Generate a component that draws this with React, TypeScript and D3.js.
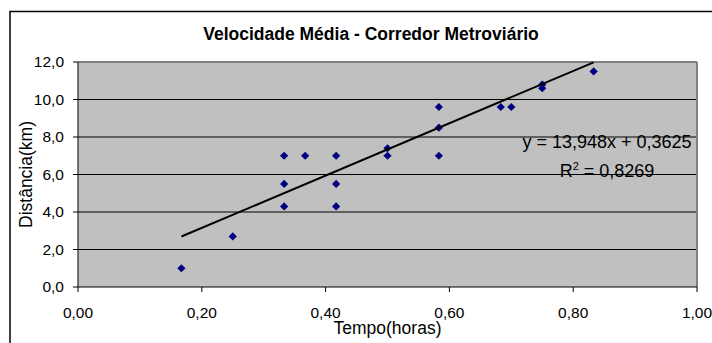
import React from "react";
import * as d3 from "d3";

const tempo = [0.167, 0.25, 0.333, 0.333, 0.333, 0.367, 0.417, 0.417, 0.417, 0.5, 0.5, 0.583, 0.583, 0.583, 0.683, 0.7, 0.75, 0.75, 0.833];
const distancia = [1.0, 2.7, 7.0, 5.5, 4.3, 7.0, 7.0, 5.5, 4.3, 7.4, 7.0, 9.6, 8.5, 7.0, 9.6, 9.6, 10.8, 10.6, 11.5];
const xTicks = [0, 0.2, 0.4, 0.6, 0.8, 1.0];
const yTicks = [0, 2, 4, 6, 8, 10, 12];
const slope = 13.948;
const intercept = 0.3625;
const r2 = 0.8269;
const title = "Velocidade Média - Corredor Metroviário";
const xTitle = "Tempo(horas)";
const yTitle = "Distância(km)";

const W = 712;
const H = 343;
const plot = { left: 78, right: 697, top: 62, bottom: 287 };
const FONT = "'Liberation Sans', Arial, sans-serif";

const comma = (s: string) => s.replace(".", ",");

export default function App() {
  const x = d3.scaleLinear().domain([0, 1]).range([plot.left, plot.right]);
  const y = d3.scaleLinear().domain([0, 12]).range([plot.bottom, plot.top]);
  const fx = d3.format(".2f");
  const fy = d3.format(".1f");
  const x0 = d3.min(tempo)!;
  const x1 = d3.max(tempo)!;
  const line = d3.line<number>().x((d) => x(d)).y((d) => y(slope * d + intercept));
  const diamond = d3.symbol().type(d3.symbolSquare).size(34)()!;

  return (
    <svg width={W} height={H} style={{ position: "absolute", left: 0, top: 0, background: "#fff" }} fontFamily={FONT}>
      <rect x={10} y={11.5} width={W + 20} height={H + 20} fill="#fff" stroke="#000" strokeWidth={1.5} />
      <text x={371} y={40} textAnchor="middle" fontWeight="bold" fontSize={17.5}>{title}</text>
      <rect x={plot.left} y={plot.top} width={plot.right - plot.left} height={plot.bottom - plot.top} fill="#c0c0c0" />
      {yTicks.map((t) => (
        <g key={"y" + t}>
          {t > 0 && t < 12 && <line x1={plot.left} x2={plot.right} y1={y(t)} y2={y(t)} stroke="#000" strokeWidth={1} />}
          <line x1={plot.left - 5} x2={plot.left} y1={y(t)} y2={y(t)} stroke="#000" />
          <text x={64} y={y(t)} dy="0.35em" textAnchor="end" fontSize={15.5}>{comma(fy(t))}</text>
        </g>
      ))}
      <line x1={plot.left} x2={plot.right} y1={plot.top} y2={plot.top} stroke="#808080" strokeWidth={2} />
      <line x1={plot.right} x2={plot.right} y1={plot.top} y2={plot.bottom} stroke="#808080" strokeWidth={2} />
      <line x1={plot.left} x2={plot.left} y1={plot.top} y2={plot.bottom} stroke="#000" strokeWidth={1} />
      <line x1={plot.left} x2={plot.right} y1={plot.bottom} y2={plot.bottom} stroke="#000" strokeWidth={1} />
      {xTicks.map((t) => (
        <g key={"x" + t}>
          <line x1={x(t)} x2={x(t)} y1={plot.bottom} y2={plot.bottom + 5} stroke="#000" />
          <text x={x(t)} y={318} textAnchor="middle" fontSize={15.5}>{comma(fx(t))}</text>
        </g>
      ))}
      {tempo.map((t, i) => (
        <path key={i} d={diamond} transform={`translate(${x(t)},${y(distancia[i])}) rotate(45)`} fill="#000080" />
      ))}
      <path d={line([x0, x1]) || ""} stroke="#000" strokeWidth={2} fill="none" />
      <text x={607} y={148} textAnchor="middle" fontSize={18}>
        {`y = ${comma(slope.toFixed(3))}x + ${comma(intercept.toFixed(4))}`}
      </text>
      <text x={607} y={176.5} textAnchor="middle" fontSize={18}>
        R<tspan fontSize={11} dy={-7}>2</tspan><tspan dy={7}>{` = ${comma(r2.toFixed(4))}`}</tspan>
      </text>
      <text x={387.5} y={334} textAnchor="middle" fontSize={17.5}>{xTitle}</text>
      <text transform={`translate(32,${(plot.top + plot.bottom) / 2}) rotate(-90)`} textAnchor="middle" fontSize={17.5}>{yTitle}</text>
    </svg>
  );
}
